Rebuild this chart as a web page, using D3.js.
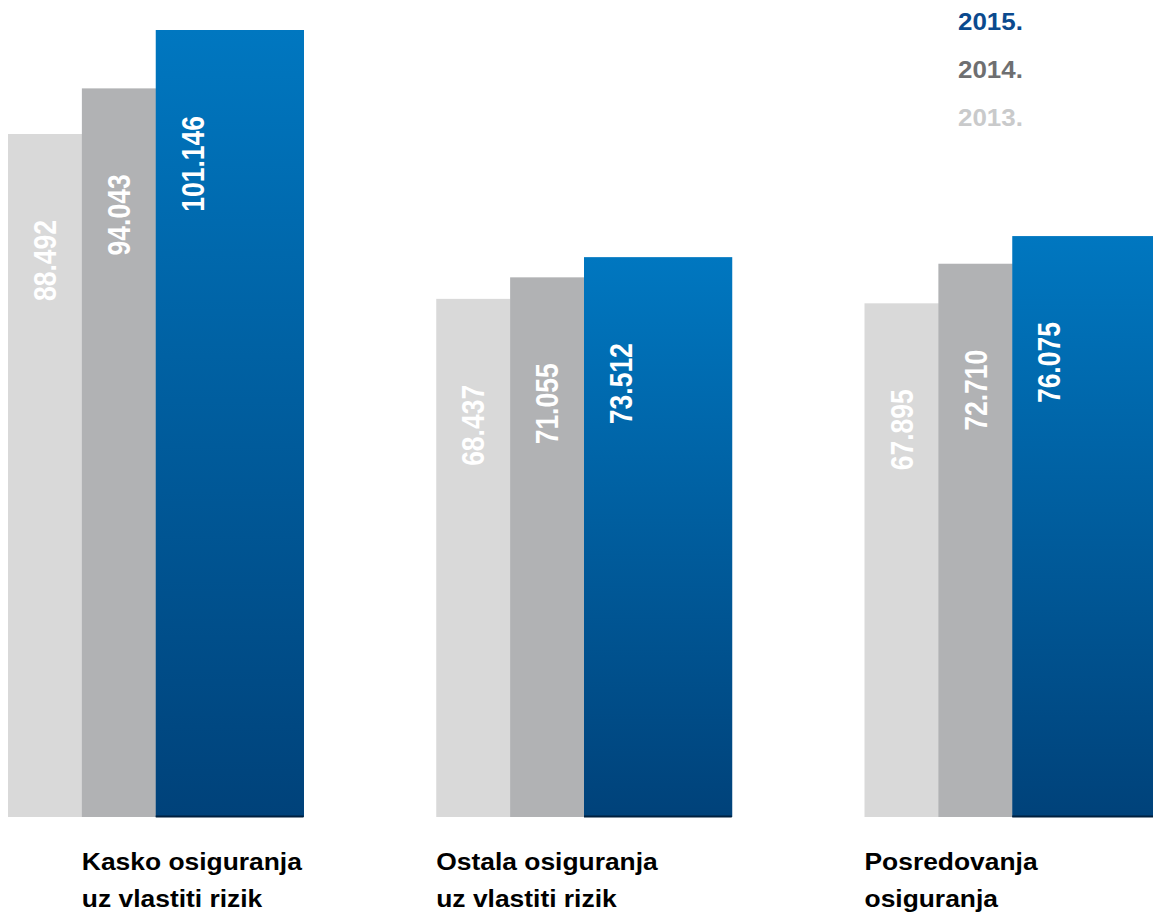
<!DOCTYPE html>
<html>
<head>
<meta charset="utf-8">
<script src="https://cdn.jsdelivr.net/npm/d3@7"></script>
<style>
  body { margin: 0; background: #fff; }
  text { font-family: "Liberation Sans", Arial, sans-serif; font-weight: bold; }
</style>
</head>
<body>
<svg id="chart" width="1153" height="917"></svg>
<script>
const categories = [
    ['Kasko osiguranja', 'uz vlastiti rizik'],
    ['Ostala osiguranja', 'uz vlastiti rizik'],
    ['Posredovanja', 'osiguranja']
];
const years = ['2013', '2014', '2015'];
const values2013 = [88.492, 68.437, 67.895];
const values2014 = [94.043, 71.055, 72.710];
const values2015 = [101.146, 73.512, 76.075];
const valueLabels2013 = ['88.492', '68.437', '67.895'];
const valueLabels2014 = ['94.043', '71.055', '72.710'];
const valueLabels2015 = ['101.146', '73.512', '76.075'];
const legendLabels = ['2015.', '2014.', '2013.'];

const series = [
    { year: '2013', values: values2013, labels: valueLabels2013 },
    { year: '2014', values: values2014, labels: valueLabels2014 },
    { year: '2015', values: values2015, labels: valueLabels2015 }
];

const svg = d3.select('#chart');

const defs = svg.append('defs');
const grad = defs.append('linearGradient')
    .attr('id', 'blueGrad')
    .attr('x1', 0).attr('y1', 0).attr('x2', 0).attr('y2', 1);
grad.append('stop').attr('offset', '0%').attr('stop-color', '#0077c0');
grad.append('stop').attr('offset', '100%').attr('stop-color', '#00427a');

const fills = { '2013': '#d9d9d9', '2014': '#b1b2b4', '2015': 'url(#blueGrad)' };
const legendColors = ['#0b4a8e', '#6e6f71', '#c9cacb'];

const x0 = d3.scaleBand()
    .domain(d3.range(categories.length))
    .range([8, 1160])
    .paddingInner(0.31)
    .paddingOuter(0);

// 2015 bar is drawn double width, so four slots
const x1 = d3.scaleBand()
    .domain(['2013', '2014', '2015', 'extra'])
    .range([0, x0.bandwidth()]);

const y = d3.scaleLinear()
    .domain([5.4, 101.146])
    .range([817, 30]);

const groups = svg.selectAll('.group')
    .data(categories)
    .enter()
    .append('g')
    .attr('class', 'group')
    .attr('transform', (d, i) => `translate(${x0(i)},0)`);

series.forEach((s) => {
    const w = s.year === '2015' ? x1.bandwidth() * 2 : x1.bandwidth();
    groups.append('rect')
        .attr('x', x1(s.year))
        .attr('y', (d, i) => y(s.values[i]))
        .attr('width', w + 0.5)
        .attr('height', (d, i) => y.range()[0] - y(s.values[i]))
        .attr('fill', fills[s.year]);

    if (s.year === '2015') {
        groups.append('line')
            .attr('x1', x1(s.year))
            .attr('x2', x1(s.year) + w)
            .attr('y1', y.range()[0] - 0.5)
            .attr('y2', y.range()[0] - 0.5)
            .attr('stroke', '#00203f')
            .attr('stroke-width', 2);
    }

    groups.append('text')
        .attr('transform', (d, i) =>
            `translate(${x1(s.year) + x1.bandwidth() / 2},${y(s.values[i]) + 86}) scale(1.18,1) rotate(-90)`)
        .attr('dy', '0.36em')
        .attr('text-anchor', 'end')
        .attr('fill', '#fff')
        .attr('font-size', 26.5)
        .text((d, i) => s.labels[i]);
});

// category labels
groups.append('g')
    .attr('transform', (d, i) => `translate(${i === 0 ? x1('2014') : 0},870) scale(1.1,1)`)
    .selectAll('text')
    .data((d) => d)
    .enter()
    .append('text')
    .attr('y', (d, j) => j * 37)
    .attr('font-size', 24)
    .attr('fill', '#000')
    .text((d) => d);

// legend
const legend = svg.append('g').attr('transform', 'translate(958,30)');
legend.selectAll('text')
    .data(legendLabels)
    .enter()
    .append('text')
    .attr('transform', (d, i) => `translate(0,${i * 48}) scale(1.08,1)`)
    .attr('font-size', 24)
    .attr('fill', (d, i) => legendColors[i])
    .text((d) => d);
</script>
</body>
</html>
